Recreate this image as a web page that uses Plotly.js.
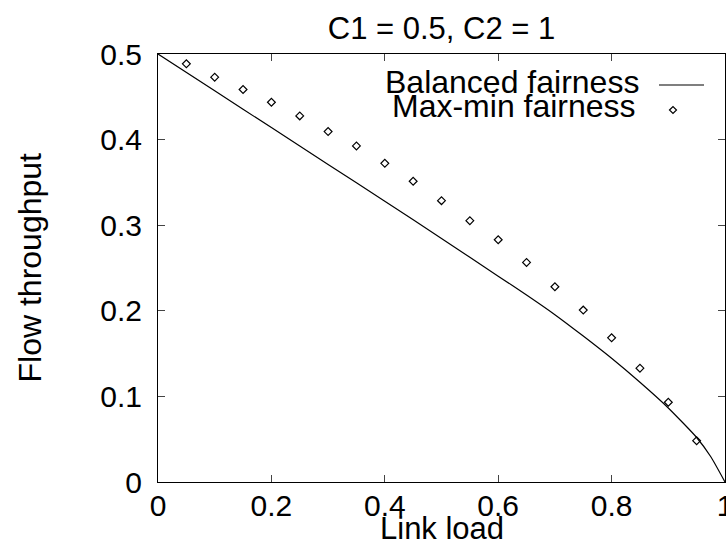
<!DOCTYPE html>
<html>
<head>
<meta charset="utf-8">
<script src="https://cdn.plot.ly/plotly-3.0.1.min.js"></script>
<style>html,body{margin:0;padding:0;background:#fff;}#chart{width:726px;height:546px;}</style>
</head>
<body>
<div id="chart"></div>
<script>
// Balanced fairness curve
const bfLoad = [0, 0.1, 0.2, 0.3, 0.4, 0.5, 0.55, 0.6, 0.65, 0.7, 0.75, 0.8, 0.85, 0.9, 0.95, 0.975, 1];
const bfThroughput = [0.5, 0.457, 0.414, 0.371, 0.328, 0.2845, 0.2625, 0.2405, 0.2185, 0.1955, 0.1705, 0.1445, 0.1165, 0.0865, 0.052, 0.0295, 0];
// Max-min fairness points
const mmLoad = [0.05, 0.1, 0.15, 0.2, 0.25, 0.3, 0.35, 0.4, 0.45, 0.5, 0.55, 0.6, 0.65, 0.7, 0.75, 0.8, 0.85, 0.9, 0.95];
const mmThroughput = [0.4885, 0.4729, 0.4585, 0.4436, 0.4277, 0.4094, 0.3926, 0.3723, 0.3513, 0.3287, 0.3053, 0.2830, 0.2565, 0.2281, 0.2008, 0.1684, 0.1330, 0.0932, 0.0483];
// Ticks and labels
const xTickVals = [0, 0.2, 0.4, 0.6, 0.8, 1];
const xTickText = ['0', '0.2', '0.4', '0.6', '0.8', '1'];
const yTickVals = [0, 0.1, 0.2, 0.3, 0.4, 0.5];
const yTickText = ['0', '0.1', '0.2', '0.3', '0.4', '0.5'];
const seriesNames = ['Balanced fairness', 'Max-min fairness'];
const chartTitle = 'C1 = 0.5, C2 = 1';
const xTitle = 'Link load';
const yTitle = 'Flow throughput';

const FONT = 'Liberation Sans, Arial, Helvetica, sans-serif';
const W = 726, H = 546, ML = 158, MR = 1, MT = 54, MB = 64;
const PW = W - ML - MR, PH = H - MT - MB;
const px = x => (x - ML) / PW;          // pixel -> paper x
const py = y => (H - MB - y) / PH;      // pixel -> paper y

const traces = [
  { x: bfLoad, y: bfThroughput, type: 'scatter', mode: 'lines', name: seriesNames[0],
    line: { color: '#000', width: 1.2, shape: 'spline', smoothing: 0.5 }, showlegend: false },
  { x: mmLoad, y: mmThroughput, type: 'scatter', mode: 'markers', name: seriesNames[1],
    marker: { symbol: 'diamond-open', size: 6, color: '#000', line: { color: '#000', width: 1.2 } }, showlegend: false }
];

const legX = 641, sampleL = 659, sampleR = 704, diamondX = 673;
const legY1 = 82, legY2 = 106;
const d = 3.5;

const layout = {
  width: W, height: H,
  margin: { l: ML, r: MR, t: MT, b: MB, pad: 0 },
  paper_bgcolor: '#fff', plot_bgcolor: '#fff',
  font: { family: FONT, size: 30, color: '#000' },
  title: { text: chartTitle, font: { family: FONT, size: 31, color: '#000' },
           xref: 'paper', x: 0.5, xanchor: 'center', yref: 'container', y: 1 - 28 / H, yanchor: 'middle' },
  xaxis: { range: [0, 1], tickvals: xTickVals, ticktext: xTickText, ticks: 'inside', ticklen: 7,
           tickcolor: '#444', showline: true, linecolor: '#000', linewidth: 1, mirror: 'ticks',
           showgrid: false, zeroline: false, tickfont: { family: FONT, size: 30, color: '#000' },
           ticklabelstandoff: -3, ticklabeloverflow: 'allow', fixedrange: true },
  yaxis: { range: [0, 0.5], tickvals: yTickVals, ticktext: yTickText, ticks: 'inside', ticklen: 7,
           tickcolor: '#444', showline: true, linecolor: '#000', linewidth: 1, mirror: 'ticks',
           showgrid: false, zeroline: false, tickfont: { family: FONT, size: 30, color: '#000' },
           ticklabelstandoff: 9, ticklabeloverflow: 'allow', fixedrange: true },
  showlegend: false,
  annotations: [
    { text: xTitle, xref: 'paper', yref: 'paper', x: 0.5, y: py(528), xanchor: 'center', yanchor: 'middle',
      showarrow: false, font: { family: FONT, size: 31, color: '#000' } },
    { text: yTitle, xref: 'paper', yref: 'paper', x: px(29.5), y: py(268), xanchor: 'center', yanchor: 'middle',
      textangle: -90, showarrow: false, font: { family: FONT, size: 32, color: '#000' } },
    { text: seriesNames[0], xref: 'paper', yref: 'paper', x: px(legX), y: py(legY1), xanchor: 'right', yanchor: 'middle',
      showarrow: false, font: { family: FONT, size: 32, color: '#000' } },
    { text: seriesNames[1], xref: 'paper', yref: 'paper', x: px(legX - 3), y: py(legY2), xanchor: 'right', yanchor: 'middle',
      showarrow: false, font: { family: FONT, size: 32, color: '#000' } }
  ],
  shapes: [
    { type: 'line', xref: 'paper', yref: 'paper', x0: px(sampleL), x1: px(sampleR), y0: py(85), y1: py(85),
      line: { color: '#000', width: 1.2 } },
    { type: 'path', xref: 'paper', yref: 'paper',
      path: 'M ' + px(diamondX - d) + ' ' + py(110) + ' L ' + px(diamondX) + ' ' + py(110 - d) + ' L ' + px(diamondX + d) + ' ' + py(110) + ' L ' + px(diamondX) + ' ' + py(110 + d) + ' Z',
      line: { color: '#000', width: 1.2 } }
  ]
};

Plotly.newPlot('chart', traces, layout, { staticPlot: true, displayModeBar: false });
</script>
</body>
</html>
